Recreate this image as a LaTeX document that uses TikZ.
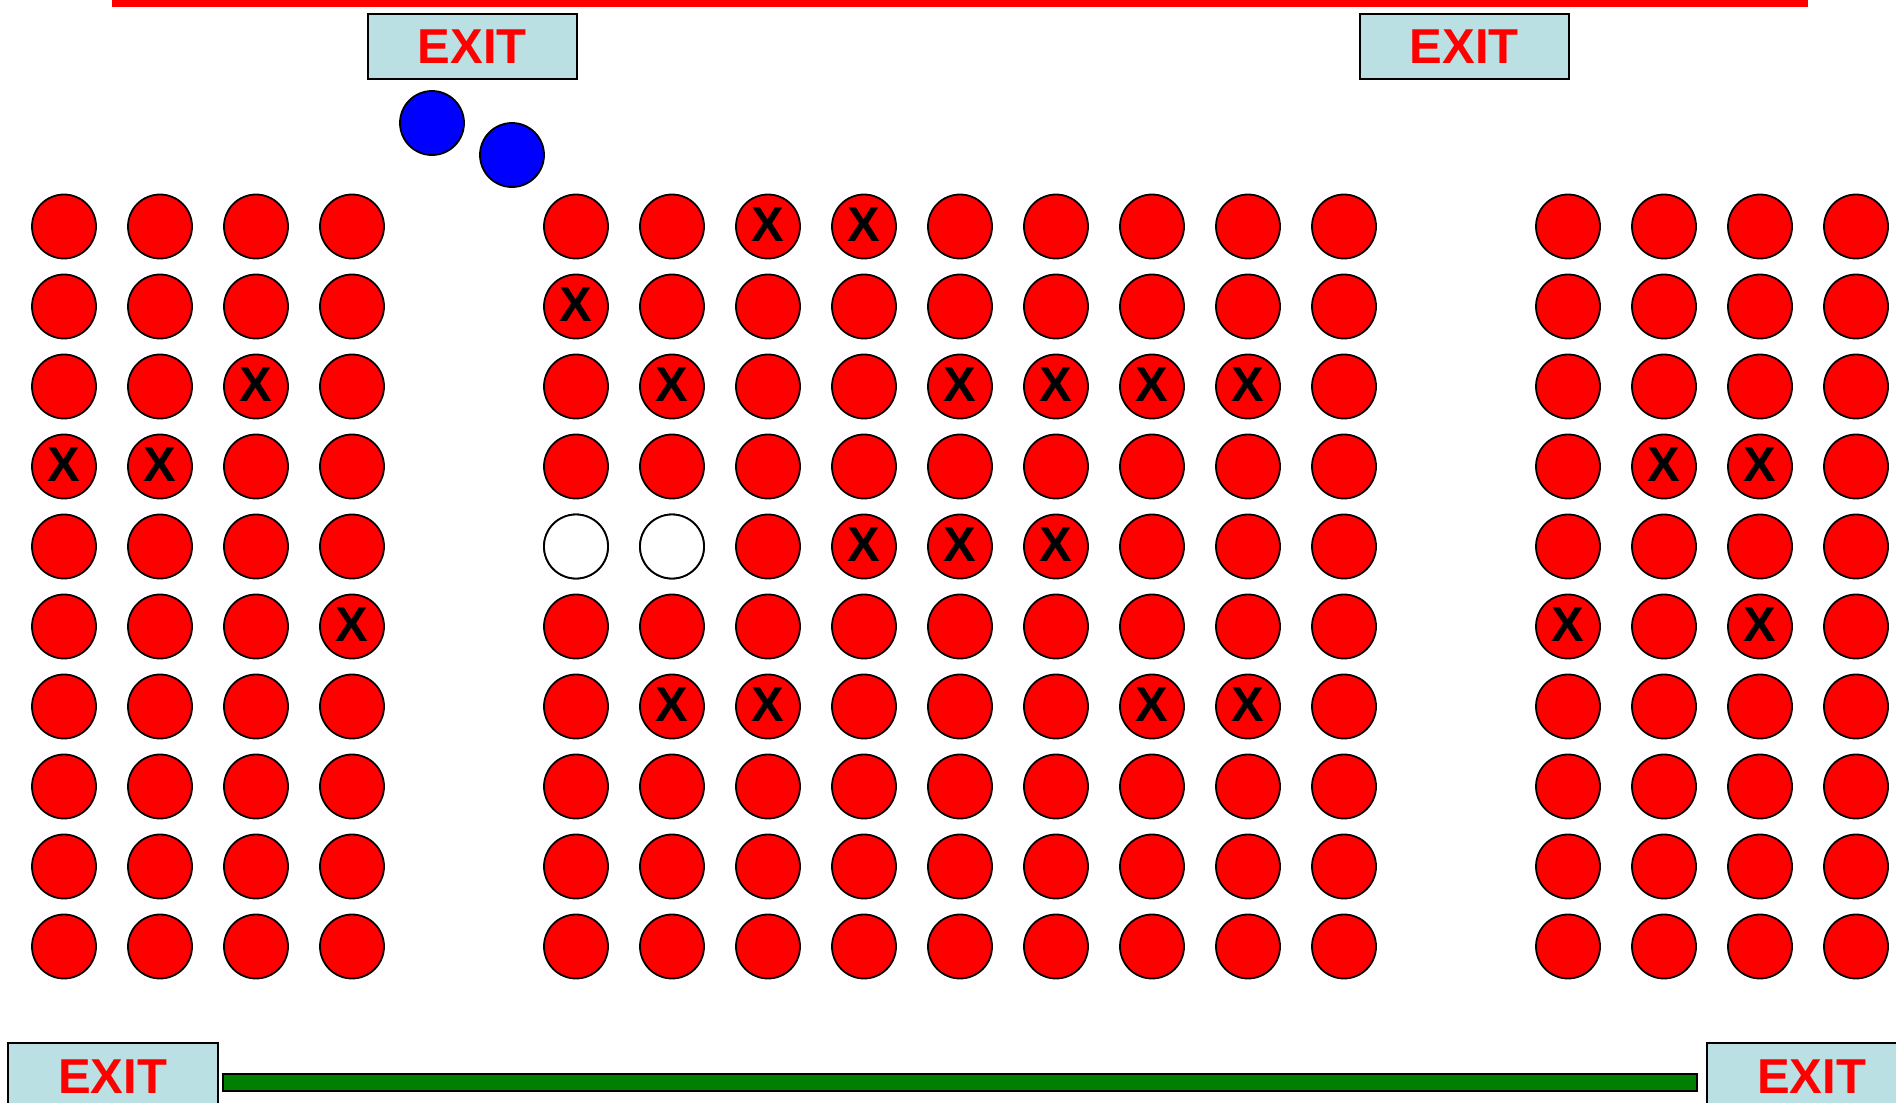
\documentclass[tikz,border=0pt]{standalone}
\usepackage{fontspec}
\setmainfont{Liberation Sans}
\definecolor{exitfill}{RGB}{187,224,227}
\definecolor{seatred}{RGB}{255,0,0}
\definecolor{personblue}{RGB}{0,0,255}
\definecolor{bargreen}{RGB}{0,128,0}
\begin{document}
\begin{tikzpicture}[x=1pt,y=-1pt,
  seat/.style={circle,draw=black,line width=1.8pt,fill=seatred,minimum size=64pt,inner sep=0pt},
  emptyseat/.style={seat,fill=white},
  person/.style={seat,fill=personblue},
  xmark/.style={inner sep=0pt,text=black,font=\fontsize{49}{49}\selectfont\bfseries},
  exitbox/.style={draw=black,line width=1.5pt,fill=exitfill,inner sep=0pt,text=seatred,font=\fontsize{49}{49}\selectfont\bfseries}]
\clip (0,0) rectangle (1896,1103);
% top red wall
\fill[seatred] (112,0) rectangle (1808,7);
% exits
\node[exitbox,minimum width=209pt,minimum height=65pt,anchor=north west] (exitTL) at (367,13) {EXIT};
\node[exitbox,minimum width=209pt,minimum height=65pt,anchor=north west] (exitTR) at (1359,13) {EXIT};
\node[exitbox,minimum width=210pt,minimum height=67pt,anchor=north west] (exitBL) at (7,1042) {EXIT};
\node[exitbox,minimum width=210pt,minimum height=67pt,anchor=north west] (exitBR) at (1706,1042) {EXIT};
% green bar
\draw[fill=bargreen,line width=1.8pt] (223,1074) rectangle (1697,1091);
% people
\node[person] (p1) at (432,123) {};
\node[person] (p2) at (512,155) {};
% seats
\foreach \r in {0,...,9}{
  \foreach \c in {0,...,3}{
    \node[seat] (L-\r-\c) at (64+96*\c,226.5+80*\r) {};
    \node[seat] (R-\r-\c) at (1568+96*\c,226.5+80*\r) {};
  }
  \foreach \c in {0,...,8}{
    \node[seat] (M-\r-\c) at (576+96*\c,226.5+80*\r) {};
  }
}
% empty seats
\node[emptyseat] (E1) at (M-4-0) {};
\node[emptyseat] (E2) at (M-4-1) {};
% taken seats
\foreach \s in {L-2-2,L-3-0,L-3-1,L-5-3,
  M-0-2,M-0-3,M-1-0,M-2-1,M-2-4,M-2-5,M-2-6,M-2-7,M-4-3,M-4-4,M-4-5,M-6-1,M-6-2,M-6-6,M-6-7,
  R-3-1,R-3-2,R-5-0,R-5-2}{
  \node[xmark] (x-\s) at ([yshift=1.5pt]\s.center) {X};
}
\end{tikzpicture}
\end{document}
